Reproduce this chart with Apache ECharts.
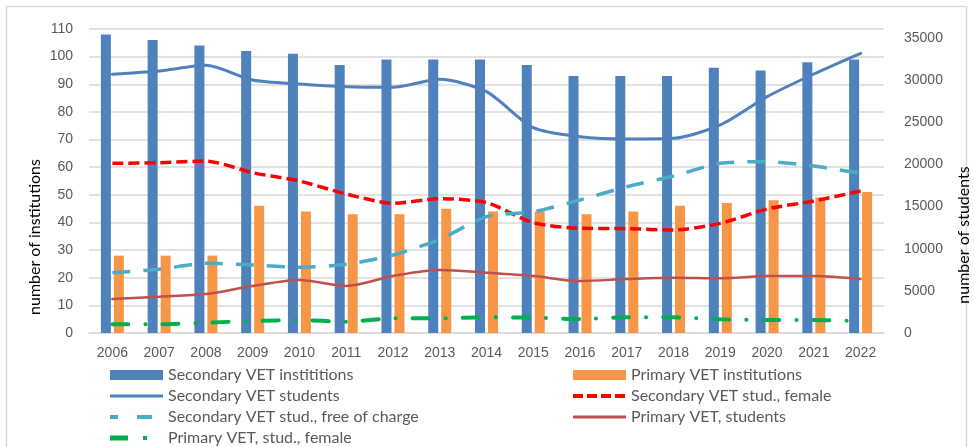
<!DOCTYPE html>
<html><head><meta charset="utf-8">
<script src="https://cdn.jsdelivr.net/npm/echarts@6/dist/echarts.min.js"></script>
<style>html,body{margin:0;padding:0;background:#fff}#c{width:974px;height:447px}</style>
</head><body><div id="c"></div>
<script>
const years = ['2006','2007','2008','2009','2010','2011','2012','2013','2014','2015','2016','2017','2018','2019','2020','2021','2022'];
const secInst = [108,106,104,102,101,97,99,99,99,97,93,93,93,96,95,98,99];
const primInst = [28,28,28,46,44,43,43,45,44,44,43,44,46,47,48,49,51];
const secStud = [30700,31080,31760,30020,29540,29220,29150,30100,28630,24360,23290,23020,23100,24680,28040,30730,33180];
const secFemale = [20130,20200,20400,19020,18030,16490,15390,15930,15460,13090,12420,12380,12220,13010,14710,15660,16850];
const secFree = [7150,7560,8270,8070,7800,8150,9250,11120,13800,14390,15780,17360,18630,20130,20330,19810,18950];
const primStud = [4030,4310,4630,5580,6290,5580,6760,7470,7150,6760,6170,6400,6560,6490,6760,6760,6410];
const primFemale = [1030,1030,1220,1420,1540,1340,1740,1740,1860,1820,1660,1860,1860,1620,1540,1540,1420];
const leftTicks = {min:0, max:110, interval:10};
const rightTicks = {min:0, max:36068, interval:5000};

const NUMFONT = 'Liberation Sans';
const TXTFONT = 'Lato';
const C = {blue:'#4F81BD', orange:'#F79646', cyan:'#4BACC6', red:'#FF0000', dred:'#C0504D', green:'#00B050'};

const chart = echarts.init(document.getElementById('c'));
const lineS = (name, data, color, width, type, cap, smooth) => ({
  name, type:'line', yAxisIndex:1, data, symbol:'none', smooth,
  lineStyle:{color, width, type, cap}, itemStyle:{color}, z:3
});
const leg = (name, left, cy, icon, h) => ({
  orient:'vertical', left, top:cy-10, padding:0, itemWidth:53, itemHeight:h,
  icon, selectedMode:false,
  textStyle:{color:'#595959', fontSize:16, fontFamily:TXTFONT, lineHeight:20},
  data:[name]
});
chart.setOption({
  animation:false,
  textStyle:{fontFamily:NUMFONT},
  graphic:[
    {type:'rect', shape:{x:6.5,y:6.5,width:960,height:450}, style:{fill:'none', stroke:'#d9d9d9', lineWidth:1.5}, silent:true},
    {type:'text', x:35, y:237, rotation:Math.PI/2, style:{text:'number of institutions', fill:'#000', font:'16px ' + TXTFONT, align:'center', verticalAlign:'middle'}},
    {type:'text', x:964, y:235, rotation:Math.PI/2, style:{text:'number of students', fill:'#000', font:'16px ' + TXTFONT, align:'center', verticalAlign:'middle'}}
  ],
  grid:{left:89, right:90, top:29, bottom:114},
  xAxis:{type:'category', data:years, axisTick:{show:false},
    axisLine:{lineStyle:{color:'#d9d9d9', width:1.5}},
    axisLabel:{color:'#595959', fontSize:14, margin:13, fontFamily:NUMFONT}},
  yAxis:[
    {type:'value', min:leftTicks.min, max:leftTicks.max, interval:leftTicks.interval,
     axisLabel:{color:'#595959', fontSize:14, margin:16, fontFamily:NUMFONT},
     axisLine:{show:false}, axisTick:{show:false},
     splitLine:{lineStyle:{color:'#d9d9d9', width:1.5}}},
    {type:'value', min:rightTicks.min, max:rightTicks.max, interval:rightTicks.interval,
     axisLabel:{color:'#595959', fontSize:14, margin:20, fontFamily:NUMFONT,
       formatter:v => (v % 5000 === 0 ? String(v) : '')},
     axisLine:{show:false}, axisTick:{show:false}, splitLine:{show:false}}
  ],
  legend:[
    leg('Secondary VET instititions', 110, 375, 'rect', 10),
    leg('Secondary VET students', 110, 396, 'path://M0,0H53V3H0Z', 3),
    leg('Secondary VET stud., free of charge', 110, 417, 'path://M0,0H8V4H0Z M27,0H42V4H27Z M53,4', 4),
    leg('Primary VET, stud., female', 110, 438, 'path://M0,0H18V5H0Z M33,0.5H37V4.5H33Z M53,5', 5),
    leg('Primary VET institutions', 573, 375, 'rect', 10),
    leg('Secondary VET stud., female', 573, 396, 'path://M0,0H10V4H0Z M14,0H24V4H14Z M28,0H38V4H28Z M42,0H52V4H42Z M53,4', 4),
    leg('Primary VET, students', 573, 417, 'path://M0,0H53V3H0Z', 3)
  ],
  series:[
    {name:'Secondary VET instititions', type:'bar', data:secInst, barWidth:10, barGap:'30%', itemStyle:{color:C.blue}, z:2},
    {name:'Primary VET institutions', type:'bar', data:primInst, barWidth:10, barGap:'30%', itemStyle:{color:C.orange}, z:2},
    lineS('Secondary VET students', secStud, C.blue, 3, 'solid', 'round', 0.25),
    lineS('Secondary VET stud., female', secFemale, C.red, 3.5, [11,5], 'butt', 0.25),
    lineS('Secondary VET stud., free of charge', secFree, C.cyan, 3.5, [18,13], 'butt', 0.25),
    lineS('Primary VET, students', primStud, C.dred, 2.5, 'solid', 'round', 0.3),
    lineS('Primary VET, stud., female', primFemale, C.green, 4, [16,17,0.1,17], 'round', 0.25)
  ]
});
</script></body></html>
